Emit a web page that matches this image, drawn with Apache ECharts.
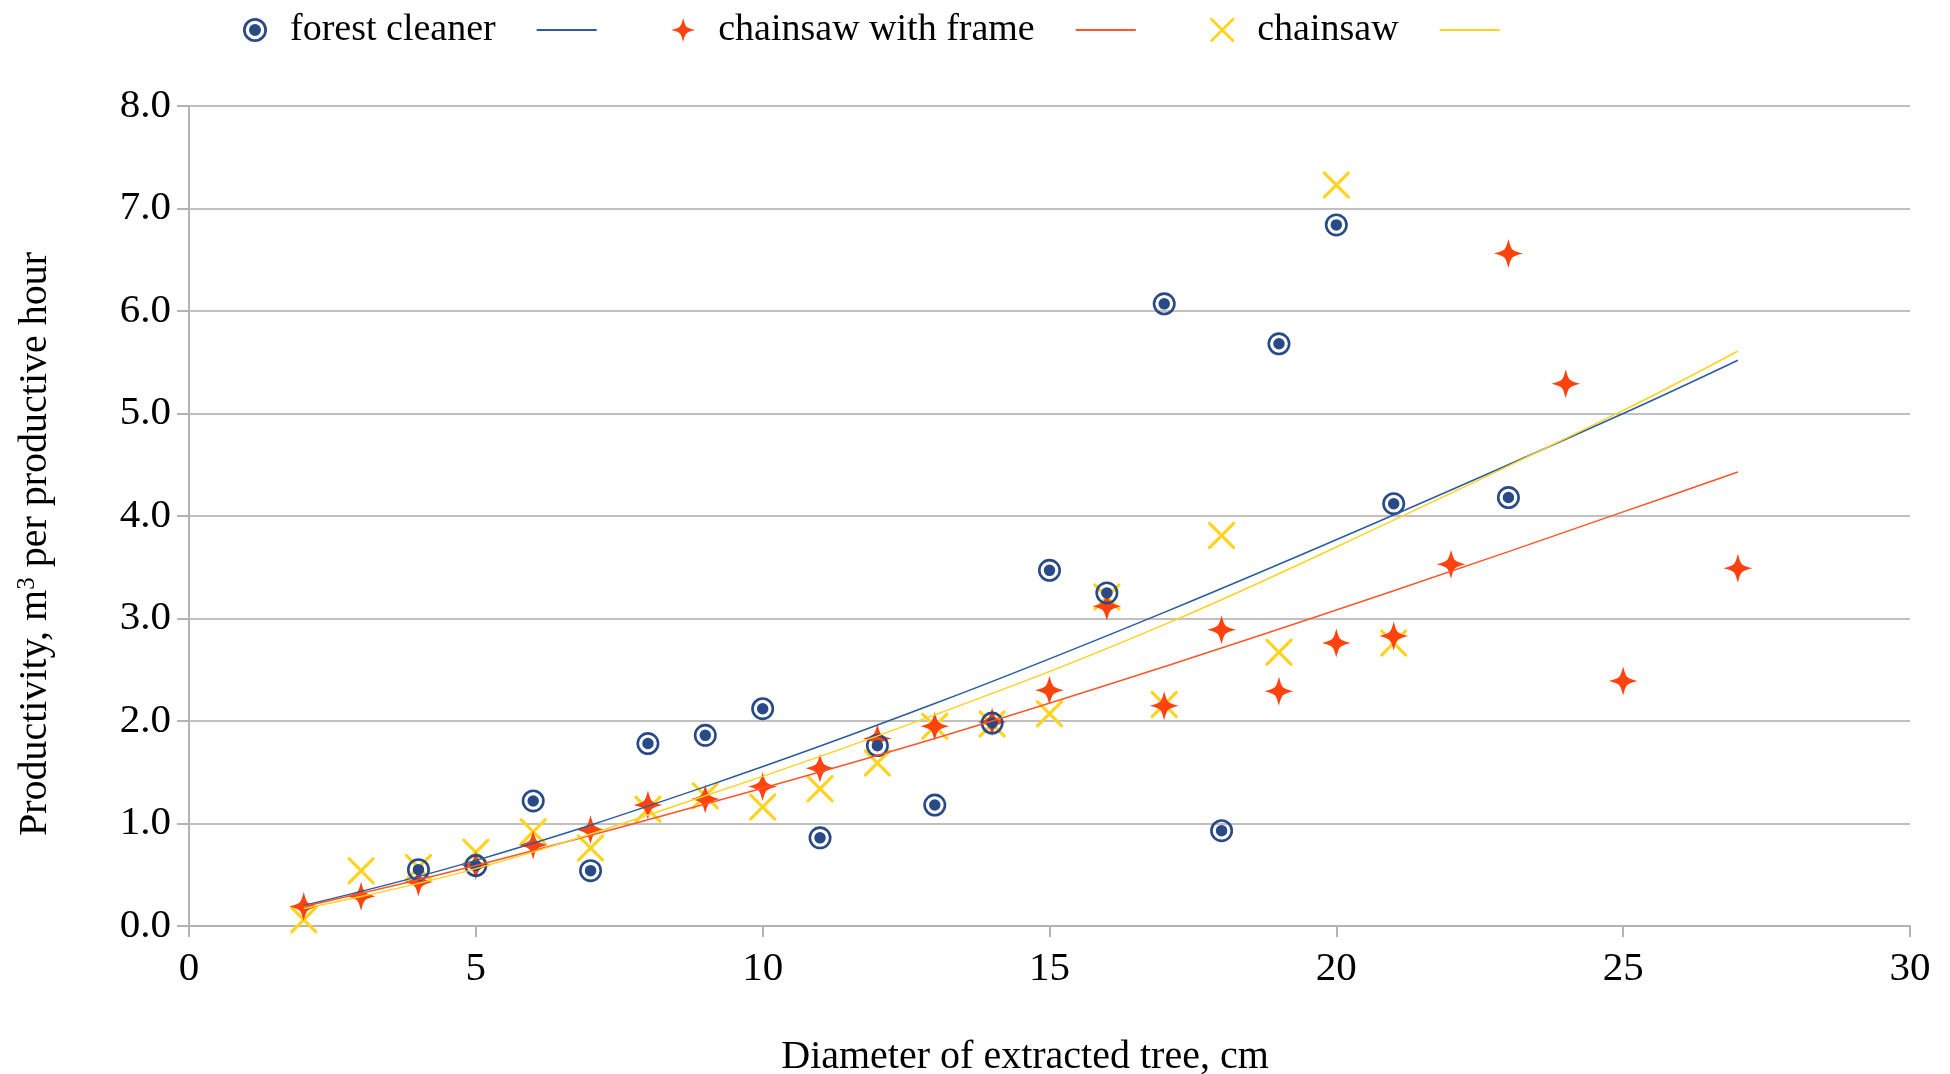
<!DOCTYPE html>
<html>
<head>
<meta charset="utf-8">
<script src="https://cdn.jsdelivr.net/npm/echarts@6/dist/echarts.min.js"></script>
<style>html,body{margin:0;padding:0;background:#fff}#c{width:1950px;height:1074px}</style>
</head>
<body>
<div id="c"></div>
<script>
// ---- data ----
const forestX = [4, 5, 6, 7, 8, 9, 10, 11, 12, 13, 14, 15, 16, 17, 18, 19, 20, 21, 23];
const forestY = [0.55, 0.59, 1.22, 0.54, 1.78, 1.86, 2.12, 0.86, 1.76, 1.18, 1.98, 3.47, 3.25, 6.07, 0.93, 5.68, 6.84, 4.12, 4.18];

const frameX = [2, 3, 4, 5, 6, 7, 8, 9, 10, 11, 12, 13, 14, 15, 16, 17, 18, 19, 20, 21, 22, 23, 24, 25, 27];
const frameY = [0.19, 0.29, 0.43, 0.59, 0.79, 0.94, 1.18, 1.24, 1.36, 1.54, 1.83, 1.95, 1.99, 2.30, 3.12, 2.15, 2.89, 2.29, 2.76, 2.83, 3.53, 6.56, 5.29, 2.39, 3.49];

const sawX = [2, 3, 4, 5, 6, 7, 8, 9, 10, 11, 12, 13, 14, 15, 16, 17, 18, 19, 20, 21];
const sawY = [0.06, 0.54, 0.57, 0.72, 0.92, 0.76, 1.14, 1.27, 1.16, 1.34, 1.59, 1.95, 1.97, 2.07, 3.21, 2.16, 3.81, 2.67, 7.23, 2.76];

// trend lines
const trendX = [2, 5, 9, 13, 17, 21, 25, 27];
const trendForest = [0.20, 0.64, 1.36, 2.17, 3.06, 4.01, 5.00, 5.52];
const trendFrame = [0.19, 0.59, 1.19, 1.83, 2.53, 3.27, 4.04, 4.43];
const trendSaw = [0.17, 0.56, 1.27, 2.06, 2.94, 3.96, 5.03, 5.61];

const xTicks = [0, 5, 10, 15, 20, 25, 30];
const yTicks = [0, 1, 2, 3, 4, 5, 6, 7, 8];

const names = ['forest cleaner', 'chainsaw with frame', 'chainsaw'];
const trendNames = ['trend forest cleaner', 'trend chainsaw with frame', 'trend chainsaw'];
const xTitle = 'Diameter of extracted tree, cm';

// ---- styling ----
const FONT = '"Liberation Serif", "Times New Roman", serif';
const ringPath = 'path://M1 12A11 11 0 1 1 23 12A11 11 0 1 1 1 12ZM3.5 12A8.5 8.5 0 1 0 20.5 12A8.5 8.5 0 1 0 3.5 12ZM6.5 12A5.5 5.5 0 1 1 17.5 12A5.5 5.5 0 1 1 6.5 12Z';
const starPath = 'path://M12 0C14.5 9.5 14.5 9.5 24 12C14.5 14.5 14.5 14.5 12 24C9.5 14.5 9.5 14.5 0 12C9.5 9.5 9.5 9.5 12 0Z';
const crossPath = 'path://M0 0L2 0L24 22L24 24L22 24L0 2ZM24 0L24 2L2 24L0 24L0 22L22 0Z';
const dashIcon = 'path://M0 0H60V2H0Z';

const zip = (xs, ys) => xs.map((x, i) => [x, ys[i]]);

const chart = echarts.init(document.getElementById('c'));
chart.setOption({
  animation: false,
  backgroundColor: '#fff',
  grid: { left: 189, right: 40, top: 106, bottom: 148, containLabel: false, outerBoundsMode: 'none' },
  legend: {
    top: 6, left: 238,
    itemWidth: 60, itemHeight: 24, itemGap: 41,
    data: [
      { name: names[0] },
      { name: trendNames[0], icon: dashIcon },
      { name: names[1] },
      { name: trendNames[1], icon: dashIcon },
      { name: names[2] },
      { name: trendNames[2], icon: dashIcon }
    ],
    formatter: n => (n.indexOf('trend') === 0 ? '\u00a0\u00a0\u00a0' : n),
    textStyle: { fontFamily: FONT, fontSize: 38, color: '#000' }
  },
  xAxis: {
    type: 'value', min: xTicks[0], max: xTicks[xTicks.length - 1], interval: 5,
    axisLine: { show: true, lineStyle: { color: '#b3b3b3', width: 2 } },
    axisTick: { show: true, length: 11, lineStyle: { color: '#b3b3b3', width: 2 } },
    splitLine: { show: false },
    axisLabel: { fontFamily: FONT, fontSize: 41, color: '#000', margin: 23 }
  },
  yAxis: {
    type: 'value', min: yTicks[0], max: yTicks[yTicks.length - 1], interval: 1,
    axisLine: { show: true, lineStyle: { color: '#b3b3b3', width: 2 } },
    axisTick: { show: true, length: 12, lineStyle: { color: '#b3b3b3', width: 2 } },
    splitLine: { show: true, lineStyle: { color: '#c0c0c0', width: 2 } },
    axisLabel: { fontFamily: FONT, fontSize: 41, color: '#000', margin: 18, formatter: v => v.toFixed(1) }
  },
  graphic: [
    {
      type: 'text', x: 1025, y: 1057,
      style: { text: xTitle, fontFamily: FONT, fontSize: 40, fill: '#000', align: 'center', verticalAlign: 'middle', textAlign: 'center', textVerticalAlign: 'middle' }
    },
    {
      type: 'text', x: 35, y: 544, rotation: Math.PI / 2,
      style: {
        text: 'Productivity, m{sup|3} per productive hour',
        fontFamily: FONT, fontSize: 40, fill: '#000',
        align: 'center', verticalAlign: 'middle', textAlign: 'center', textVerticalAlign: 'middle',
        rich: { sup: { fontSize: 25, fontFamily: FONT, fill: '#000', verticalAlign: 'top' } }
      }
    }
  ],
  series: [
    {
      name: names[2], type: 'scatter', data: zip(sawX, sawY), z: 2,
      symbol: crossPath, symbolSize: 27, itemStyle: { color: '#ffd320', opacity: 1 }
    },
    {
      name: names[1], type: 'scatter', data: zip(frameX, frameY), z: 3,
      symbol: starPath, symbolSize: 29, itemStyle: { color: '#ff420e', opacity: 1 }
    },
    {
      name: names[0], type: 'scatter', data: zip(forestX, forestY), z: 4,
      symbol: ringPath, symbolSize: 23, itemStyle: { color: '#284a87', opacity: 1 }
    },
    {
      name: trendNames[0], type: 'line', data: zip(trendX, trendForest), z: 5,
      symbol: 'none', smooth: 0.4, lineStyle: { color: '#2a5c9c', width: 1.5 }, itemStyle: { color: '#2a5c9c' }
    },
    {
      name: trendNames[1], type: 'line', data: zip(trendX, trendFrame), z: 5,
      symbol: 'none', smooth: 0.4, lineStyle: { color: '#ff5528', width: 1.5 }, itemStyle: { color: '#ff5528' }
    },
    {
      name: trendNames[2], type: 'line', data: zip(trendX, trendSaw), z: 5,
      symbol: 'none', smooth: 0.4, lineStyle: { color: '#ffd320', width: 1.5 }, itemStyle: { color: '#ffd320' }
    }
  ]
});
</script>
</body>
</html>
